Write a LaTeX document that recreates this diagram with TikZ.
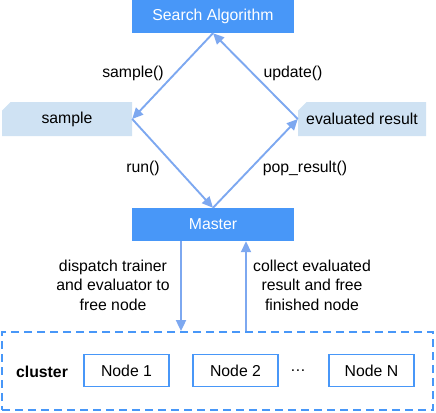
\documentclass[tikz,border=0pt]{standalone}
\usepackage{fontspec}
\setmainfont{Liberation Sans}
\usetikzlibrary{arrows.meta,shapes.misc,positioning}

\definecolor{darkbox}{RGB}{72,151,248}
\definecolor{lightbox}{RGB}{207,226,243}
\definecolor{flow}{RGB}{125,168,240}

\tikzset{
    algo/.style={fill=darkbox, text=white, minimum width=162pt, minimum height=33pt, inner sep=0pt},
    result/.style={chamfered rectangle, chamfered rectangle corners=north west,
        chamfered rectangle xsep=5pt, fill=lightbox, minimum height=34pt, inner sep=0pt},
    worker/.style={draw=darkbox, line width=1.8pt, fill=white, minimum width=85pt, minimum height=32pt, inner sep=0pt},
    flowline/.style={draw=flow, line width=1.9pt, -{Triangle[length=11pt,width=10pt]}},
    lbl/.style={inner sep=0pt, align=center},
}

\begin{document}
\begin{tikzpicture}[x=1pt, y=-1pt, font=\fontsize{15.8}{19.5}\selectfont]
    \useasboundingbox (0,0) rectangle (436,412);

    \node [algo] (search) at (213,16.5) {Search Algorithm};
    \node [result, minimum width=130pt] (sample) at (67,119) {sample};
    \node [result, minimum width=128pt] (eval) at (362,119) {evaluated result};
    \node [algo] (master) at (213,224.5) {Master};

    % cluster
    \node [draw=darkbox, line width=1.8pt, dash pattern=on 8pt off 5pt,
           minimum width=431pt, minimum height=78pt, inner sep=0pt] (clu) at (217.5,371) {};
    \node [font=\fontsize{15.8}{19.5}\selectfont\bfseries] (cl) at (42,372) {cluster};
    \node [worker] (n1) at (126.5,370.5) {Node 1};
    \node [worker] (n2) at (235.5,370.5) {Node 2};
    \node (dots) at (298,371) {\dots};
    \node [worker] (nn) at (371.5,370.5) {Node N};

    \node [lbl] (l1) at (133,73) {sample()};
    \node [lbl] (l2) at (293,73) {update()};
    \node [lbl] (l3) at (143,168) {run()};
    \node [lbl] (l4) at (305,168) {pop\_result()};
    \node [lbl] (l5) at (113,285) {dispatch trainer\\and evaluator to\\free node};
    \node [lbl] (l6) at (312,285) {collect evaluated\\result and free\\finished node};

    \draw [flowline] (search.south) -- (sample.east);
    \draw [flowline] (sample.east) -- (master.north);
    \draw [flowline] (master.north) -- (eval.west);
    \draw [flowline] (eval.west) -- (search.south);

    \draw [flowline] ([xshift=-32pt]master.south) -- ([xshift=-32pt]master.south |- clu.north);
    \draw [flowline] ([xshift=33pt]master.south |- clu.north) -- ([xshift=33pt]master.south);
\end{tikzpicture}
\end{document}
